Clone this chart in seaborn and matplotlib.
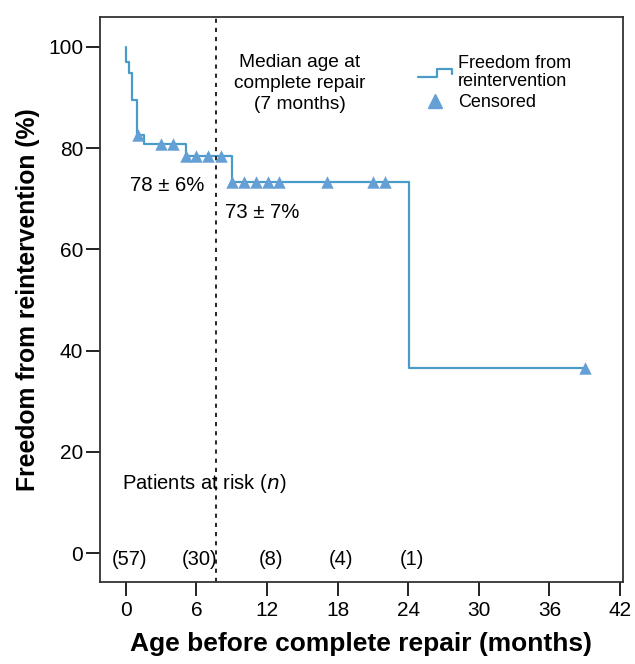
import numpy as np
import pandas as pd
import matplotlib
matplotlib.use("Agg")
import matplotlib.pyplot as plt
import seaborn as sns
from matplotlib.lines import Line2D
from matplotlib.legend_handler import HandlerLine2D

# ---- data ----
step_time = [0, 0.02, 0.25, 0.5, 0.95, 1.5, 5.1, 9.0, 24.1, 39.0]
step_surv = [100, 97.0, 94.9, 89.5, 82.6, 80.8, 78.5, 73.4, 36.6, 36.6]

censor_time = [1.05, 3.0, 4.0, 5.1, 6.0, 7.0, 8.05, 9.0, 10.0, 11.05, 12.05, 13.0, 17.07, 21.0, 22.0, 39.0]
censor_surv = [82.6, 80.8, 80.8, 78.5, 78.5, 78.5, 78.5, 73.4, 73.4, 73.4, 73.4, 73.4, 73.4, 73.4, 73.4, 36.6]

risk_time = [0, 6, 12, 18, 24]
risk_n = [57, 30, 8, 4, 1]

median_age = 7.7
x_ticks = [0, 6, 12, 18, 24, 30, 36, 42]
y_ticks = [0, 20, 40, 60, 80, 100]

line_color = "#4b9bc8"
marker_color = "#649fd6"

sns.set_theme(style="ticks")
plt.rcParams['font.family'] = ['Liberation Sans', 'DejaVu Sans']
plt.rcParams['text.color'] = 'black'
plt.rcParams['axes.labelcolor'] = 'black'
plt.rcParams['xtick.color'] = '#222222'
plt.rcParams['ytick.color'] = '#222222'
plt.rcParams['xtick.labelcolor'] = 'black'
plt.rcParams['ytick.labelcolor'] = 'black'


class StepHandler(HandlerLine2D):
    def create_artists(self, legend, orig_handle, xdescent, ydescent, width, height, fontsize, trans):
        x0 = -xdescent
        y0 = -ydescent
        xs = [x0, x0 + width * 0.55, x0 + width * 0.55, x0 + width, x0 + width]
        ys = [y0 + height * 0.1, y0 + height * 0.1, y0 + height * 0.75, y0 + height * 0.75, y0 + height * 0.35]
        ln = Line2D(xs, ys, color=orig_handle.get_color(), linewidth=orig_handle.get_linewidth())
        ln.set_transform(trans)
        return [ln]


fig = plt.figure(figsize=(6.35, 6.64), dpi=100)
ax = fig.add_axes([100/635, 1-582/664, 523/635, 565/664])

df_step = pd.DataFrame({"t": step_time, "s": step_surv})
df_cens = pd.DataFrame({"t": censor_time, "s": censor_surv})

sns.lineplot(data=df_step, x="t", y="s", drawstyle="steps-post", color=line_color,
             linewidth=1.6, ax=ax, estimator=None, sort=False)
sns.scatterplot(data=df_cens, x="t", y="s", marker="^", s=80, color=marker_color,
                edgecolor=marker_color, linewidth=0, ax=ax, zorder=5)

ax.axvline(median_age, color="black", linestyle=(0, (2.5, 3)), linewidth=1.2)

ax.set_xlim(-2.2, 42.25)
ax.set_ylim(-5.7, 105.9)
ax.set_xticks(x_ticks)
ax.set_yticks(y_ticks)
ax.tick_params(axis="both", direction="out", length=10, width=1.4, labelsize=15)
ax.tick_params(axis="x", pad=4)
ax.tick_params(axis="y", pad=2)
for sp in ax.spines.values():
    sp.set_visible(True)
    sp.set_linewidth(1.3)
    sp.set_color("#333333")

ax.set_xlabel("Age before complete repair (months)", fontsize=19, fontweight="bold", labelpad=8)
ax.set_ylabel("Freedom from reintervention (%)", fontsize=17.8, fontweight="bold", labelpad=6)

ax.text(14.8, 92.7, "Median age at\ncomplete repair\n(7 months)", ha="center", va="center",
        fontsize=13.8, linespacing=1.3)
ax.text(0.35, 72.6, "78 ± 6%", ha="left", va="center", fontsize=14.7)
ax.text(8.4, 67.2, "73 ± 7%", ha="left", va="center", fontsize=14.7)
ax.text(-0.35, 13.8, "Patients at risk ($\\it{n}$)", ha="left", va="center", fontsize=14.5)
for t, n in zip(risk_time, risk_n):
    ax.text(t + 0.3, -1.3, f"({n})", ha="center", va="center", fontsize=14.5)

handles = [Line2D([0], [0], color=line_color, linewidth=1.6),
           Line2D([0], [0], color=marker_color, marker="^", linestyle="none", markersize=10)]
leg = ax.legend(handles, ["Freedom from\nreintervention", "Censored"], loc="upper left",
                bbox_to_anchor=(0.608, 0.933), frameon=False, fontsize=13, handlelength=1.9,
                handletextpad=0.3, labelspacing=0.25, borderaxespad=0, borderpad=0,
                handler_map={handles[0]: StepHandler()})
for t in leg.get_texts():
    t.set_linespacing(1.05)

fig.savefig("out.png", dpi=100)
